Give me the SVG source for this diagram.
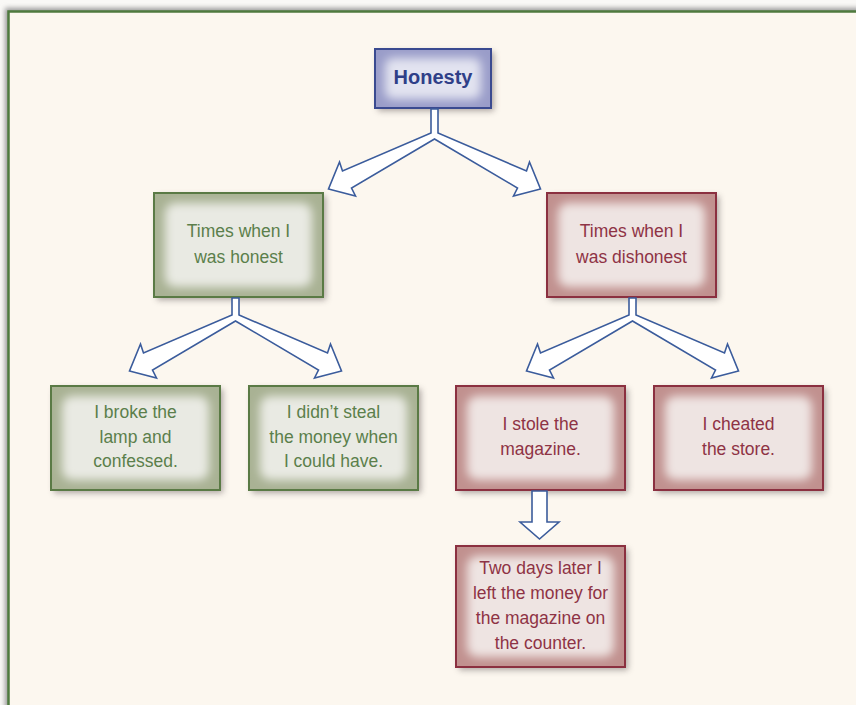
<svg xmlns="http://www.w3.org/2000/svg" width="856" height="705" viewBox="0 0 856 705">
<defs>
<style>
.frame{fill:#fcf7ef;stroke:#4e7a3e;stroke-width:2.5}
.sh{fill:#6b6060;opacity:0.55}
.bd{fill:none;stroke-width:2}
.g .bd{stroke:#5a7a45}.g .edge{fill:#a9b294}.g .core{fill:#e9eae3}.g text{fill:#5b7f4b}
.r .bd{stroke:#8b3040}.r .edge{fill:#c1918f}.r .core{fill:#eee4e2}.r text{fill:#8e3345}
.b .bd{stroke:#3a4a90}.b .edge{fill:#9a9dc9}.b .core{fill:#e2e3f0}.b text{fill:#2f3f88;font-weight:bold}
text{font-family:"Liberation Sans",Arial,sans-serif;font-size:17.5px;text-anchor:middle}
.arrow{fill:#ffffff;stroke:#3b5c9c;stroke-width:1.6;stroke-linejoin:miter}
</style>
<filter id="soft" x="-20%" y="-20%" width="140%" height="140%"><feGaussianBlur stdDeviation="3"/></filter>
<filter id="glow" x="-30%" y="-30%" width="160%" height="160%"><feGaussianBlur stdDeviation="5"/></filter>
<filter id="fsh" x="-5%" y="-5%" width="110%" height="110%"><feGaussianBlur stdDeviation="2.5"/></filter>
</defs>
<rect x="0" y="0" width="856" height="705" fill="#f9f8f6"/>
<rect x="5" y="8" width="900" height="800" fill="#9a9a9a" filter="url(#fsh)"/>
<rect class="frame" x="8.5" y="11.5" width="900" height="800"/>

<g id="honesty" class="b">
<rect class="sh" x="378" y="52" width="116" height="59" filter="url(#soft)"/>
<svg x="375" y="49" width="116" height="59"><rect class="edge" width="116" height="59"/><rect class="core" x="10" y="9" width="96" height="41" rx="8" filter="url(#glow)"/></svg>
<rect class="bd" x="375" y="49" width="116" height="59"/>
<text x="433" y="84" style="font-size:20px">Honesty</text>
</g>

<g id="honest" class="g">
<rect class="sh" x="157" y="196" width="169" height="104" filter="url(#soft)"/>
<svg x="154" y="193" width="169" height="104"><rect class="edge" width="169" height="104"/><rect class="core" x="11" y="10" width="147" height="84" rx="10" filter="url(#glow)"/></svg>
<rect class="bd" x="154" y="193" width="169" height="104"/>
<text x="238.5" y="237">Times when I</text>
<text x="238.5" y="263">was honest</text>
</g>

<g id="dishonest" class="r">
<rect class="sh" x="550" y="196" width="169" height="104" filter="url(#soft)"/>
<svg x="547" y="193" width="169" height="104"><rect class="edge" width="169" height="104"/><rect class="core" x="11" y="10" width="147" height="84" rx="10" filter="url(#glow)"/></svg>
<rect class="bd" x="547" y="193" width="169" height="104"/>
<text x="631.5" y="237">Times when I</text>
<text x="631.5" y="263">was dishonest</text>
</g>

<g id="lamp" class="g">
<rect class="sh" x="54" y="389" width="169" height="104" filter="url(#soft)"/>
<svg x="51" y="386" width="169" height="104"><rect class="edge" width="169" height="104"/><rect class="core" x="11" y="10" width="147" height="84" rx="10" filter="url(#glow)"/></svg>
<rect class="bd" x="51" y="386" width="169" height="104"/>
<text x="135.5" y="418">I broke the</text>
<text x="135.5" y="443">lamp and</text>
<text x="135.5" y="467">confessed.</text>
</g>

<g id="money" class="g">
<rect class="sh" x="252" y="389" width="169" height="104" filter="url(#soft)"/>
<svg x="249" y="386" width="169" height="104"><rect class="edge" width="169" height="104"/><rect class="core" x="11" y="10" width="147" height="84" rx="10" filter="url(#glow)"/></svg>
<rect class="bd" x="249" y="386" width="169" height="104"/>
<text x="333.5" y="418">I didn’t steal</text>
<text x="333.5" y="443">the money when</text>
<text x="333.5" y="467">I could have.</text>
</g>

<g id="stole" class="r">
<rect class="sh" x="459" y="389" width="169" height="104" filter="url(#soft)"/>
<svg x="456" y="386" width="169" height="104"><rect class="edge" width="169" height="104"/><rect class="core" x="11" y="10" width="147" height="84" rx="10" filter="url(#glow)"/></svg>
<rect class="bd" x="456" y="386" width="169" height="104"/>
<text x="540.5" y="430">I stole the</text>
<text x="540.5" y="455">magazine.</text>
</g>

<g id="cheated" class="r">
<rect class="sh" x="657" y="389" width="169" height="104" filter="url(#soft)"/>
<svg x="654" y="386" width="169" height="104"><rect class="edge" width="169" height="104"/><rect class="core" x="11" y="10" width="147" height="84" rx="10" filter="url(#glow)"/></svg>
<rect class="bd" x="654" y="386" width="169" height="104"/>
<text x="738.5" y="430">I cheated</text>
<text x="738.5" y="455">the store.</text>
</g>

<g id="later" class="r">
<rect class="sh" x="459" y="549" width="169" height="121" filter="url(#soft)"/>
<svg x="456" y="546" width="169" height="121"><rect class="edge" width="169" height="121"/><rect class="core" x="11" y="10" width="147" height="101" rx="10" filter="url(#glow)"/></svg>
<rect class="bd" x="456" y="546" width="169" height="121"/>
<text x="540.5" y="574">Two days later I</text>
<text x="540.5" y="599">left the money for</text>
<text x="540.5" y="624">the magazine on</text>
<text x="540.5" y="649">the counter.</text>
</g>

<g id="connectors">
<polygon class="arrow" points="431,109 431,133 342.5,171 339.5,162 328.5,189 355.5,196 351.5,188 434.5,139 517.5,188 513.5,196 540.5,189 529.5,162 526.5,171 438,133 438,109"/>
<polygon class="arrow" points="232,298 232,315 143.5,353 140.5,344 129.5,371 156.5,378 152.5,370 235.5,321 318.5,370 314.5,378 341.5,371 330.5,344 327.5,353 239,315 239,298"/>
<polygon class="arrow" points="629,298 629,315 540.5,353 537.5,344 526.5,371 553.5,378 549.5,370 632.5,321 715.5,370 711.5,378 738.5,371 727.5,344 724.5,353 636,315 636,298"/>
<polygon class="arrow" points="532,491 532,522 520,522 539.5,539 559,522 547,522 547,491"/>
</g>
</svg>
